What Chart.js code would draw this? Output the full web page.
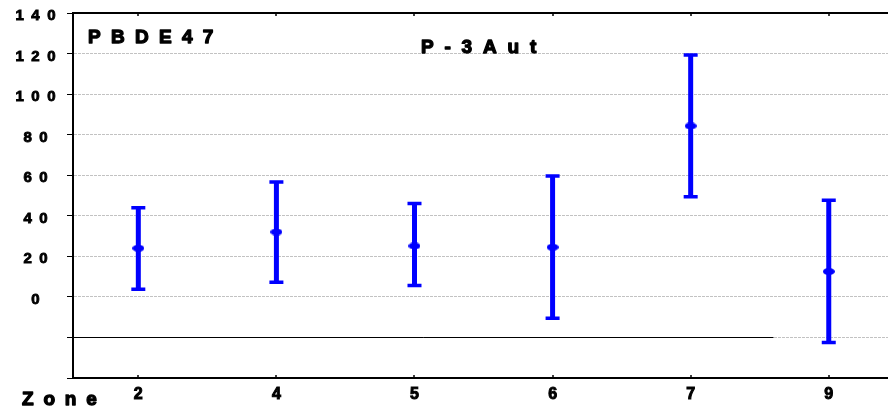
<!DOCTYPE html>
<html>
<head>
<meta charset="utf-8">
<script src="https://cdn.jsdelivr.net/npm/chart.js@4.4.1/dist/chart.umd.min.js"></script>
<style>
  html, body { margin: 0; padding: 0; background: #fff; }
  #c { display: block; }
</style>
</head>
<body>
<canvas id="c" width="888" height="410"></canvas>
<script>
// Sampling zones and PBDE-47 concentration summary (mean with lower/upper limits)
const zones = ['2', '4', '5', '6', '7', '9'];
const means = [24.0, 32.0, 25.1, 24.5, 84.3, 12.5];
const upper = [44.0, 56.7, 46.0, 59.6, 119.3, 47.7];
const lower = [3.8, 7.2, 5.6, -10.5, 49.4, -22.5];
const yTicks = [-40, -20, 0, 20, 40, 60, 80, 100, 120, 140];
const compound = 'PBDE47';
const station = 'P-3Aut';
const axisName = 'Zone';

const FONT = "'Liberation Sans', Arial, Helvetica, sans-serif";
const BLUE = '#0000ff';
const GRID = '#c2c2c2';

// Flattened oval marker for the means
function ovalMarker(w, h) {
  const c = document.createElement('canvas');
  c.width = w; c.height = h;
  const g = c.getContext('2d');
  g.fillStyle = BLUE;
  g.beginPath();
  g.ellipse(w / 2, h / 2, w / 2, h / 2, 0, 0, Math.PI * 2);
  g.fill();
  return c;
}

// Heavy text drawn one glyph at a time with extra tracking
function spacedText(ctx, str, x, y, spacing) {
  for (const ch of str) {
    ctx.fillText(ch, x, y);
    ctx.strokeText(ch, x, y);
    x += ctx.measureText(ch).width + spacing;
  }
}

// Top frame line, small inner tick marks and the reference line at -20
const frame = {
  id: 'frame',
  beforeDatasetsDraw(chart) {
    const { ctx, chartArea: a, scales: { x, y } } = chart;
    ctx.save();
    ctx.strokeStyle = '#000';
    ctx.lineWidth = 2;
    ctx.beginPath();
    ctx.moveTo(a.left, a.top);
    ctx.lineTo(a.right, a.top);
    ctx.stroke();

    ctx.lineWidth = 1.5;
    ctx.beginPath();
    zones.forEach((_, i) => {
      const px = Math.round(x.getPixelForValue(i));
      ctx.moveTo(px, a.top);
      ctx.lineTo(px, a.top + 3);
      ctx.moveTo(px, a.bottom);
      ctx.lineTo(px, a.bottom - 3);
    });
    ctx.stroke();

    const ry = Math.round(y.getPixelForValue(-20)) + 0.5;
    ctx.lineWidth = 1;
    ctx.beginPath();
    ctx.moveTo(a.left, ry);
    ctx.lineTo(x.getPixelForValue(4.6), ry);
    ctx.stroke();
    ctx.restore();
  }
};

// Vertical range bars with caps, drawn under the mean markers
const rangeBars = {
  id: 'rangeBars',
  beforeDatasetsDraw(chart) {
    const { ctx, scales: { x, y } } = chart;
    ctx.save();
    ctx.strokeStyle = BLUE;
    ctx.lineCap = 'butt';
    means.forEach((_, i) => {
      const px = x.getPixelForValue(i);
      const top = y.getPixelForValue(upper[i]);
      const bot = y.getPixelForValue(lower[i]);
      ctx.lineWidth = 5;
      ctx.beginPath();
      ctx.moveTo(px, top);
      ctx.lineTo(px, bot);
      ctx.stroke();
      ctx.lineWidth = 3.5;
      ctx.beginPath();
      ctx.moveTo(px - 7, top); ctx.lineTo(px + 7, top);
      ctx.moveTo(px - 7, bot); ctx.lineTo(px + 7, bot);
      ctx.stroke();
    });
    ctx.restore();
  }
};

// Titles inside the plot and the category axis name
const labels = {
  id: 'labels',
  afterDraw(chart) {
    const { ctx } = chart;
    ctx.save();
    ctx.fillStyle = '#000';
    ctx.strokeStyle = '#000';
    ctx.lineWidth = 1.3;
    ctx.lineJoin = 'round';
    ctx.textAlign = 'left';
    ctx.textBaseline = 'alphabetic';
    ctx.font = 'bold 19px ' + FONT;
    spacedText(ctx, compound, 88, 43, 10.3);
    spacedText(ctx, station, 421, 53, 10.8);
    spacedText(ctx, axisName, 22, 405, 9.8);
    ctx.restore();
  }
};

new Chart(document.getElementById('c'), {
  type: 'scatter',
  data: {
    datasets: [{
      data: means.map((m, i) => ({ x: i, y: m })),
      pointStyle: ovalMarker(12, 7),
      pointRadius: 6,
      backgroundColor: BLUE,
      borderColor: BLUE,
      showLine: false
    }]
  },
  options: {
    responsive: false,
    devicePixelRatio: 1,
    animation: false,
    events: [],
    layout: { autoPadding: false, padding: { top: 13, left: 0, right: 0, bottom: 0 } },
    plugins: { legend: { display: false }, tooltip: { enabled: false } },
    scales: {
      x: {
        type: 'linear',
        min: -0.473,
        max: 5.429,
        afterBuildTicks: s => { s.ticks = zones.map((_, i) => ({ value: i })); },
        afterFit: s => { s.height = 32; s.paddingLeft = 0; s.paddingRight = 0; },
        ticks: {
          callback: v => zones[v] ?? '',
          font: { family: FONT, size: 16, weight: 'bold' },
          color: '#000',
          textStrokeColor: '#000',
          textStrokeWidth: 1,
          padding: 7,
          maxRotation: 0,
          autoSkip: false
        },
        grid: { drawOnChartArea: false, drawTicks: false },
        border: { color: '#000', width: 2 }
      },
      y: {
        type: 'linear',
        min: -40,
        max: 140,
        afterBuildTicks: s => { s.ticks = yTicks.map(v => ({ value: v })); },
        afterFit: s => { s.width = 73; s.paddingTop = 0; s.paddingBottom = 0; },
        ticks: {
          callback: v => v < 0 ? '' : String(v).split('').join('\u2002'),
          font: { family: FONT, size: 15, weight: 'bold' },
          color: '#000',
          textStrokeColor: '#000',
          textStrokeWidth: 0.9,
          padding: 11.5,
          crossAlign: 'center',
          labelOffset: 3
        },
        grid: {
          color: c => (c.tick && (c.tick.value === 140 || c.tick.value === -40)) ? 'rgba(0,0,0,0)' : GRID,
          lineWidth: 1,
          drawTicks: true,
          tickLength: 6,
          tickColor: '#000',
          tickWidth: 1
        },
        border: { color: '#000', width: 2, dash: [3, 1] }
      }
    }
  },
  plugins: [frame, rangeBars, labels]
});
</script>
</body>
</html>
